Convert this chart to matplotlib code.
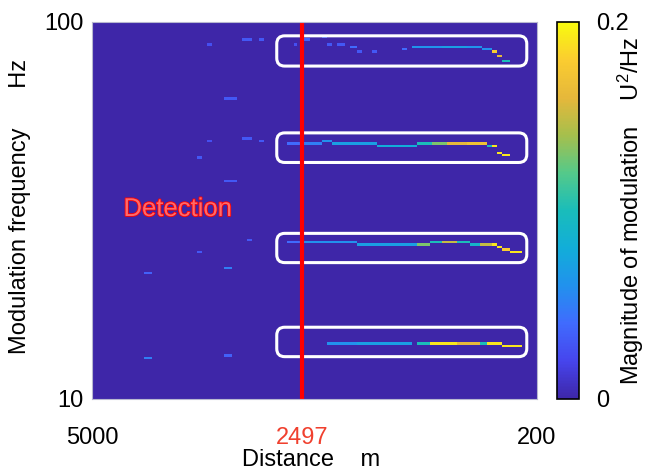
import numpy as np
import matplotlib
matplotlib.use('Agg')
import matplotlib.pyplot as plt
from matplotlib.colors import LinearSegmentedColormap
from matplotlib.patches import FancyBboxPatch
import matplotlib.patheffects as pe

plt.rcParams['font.family'] = ['Liberation Sans', 'DejaVu Sans']
plt.rcParams['mathtext.default'] = 'regular'

# distance bins (index along the trace) and tick labels
n_bins = 178
dist_ticks = [0, 84, 178]
dist_labels = ['5000', '2497', '200']
detect_bin = 84

# frequency axis
f_min, f_max = 10, 100
n_rows = 160

# segments: (bin start, bin end, frequency Hz, magnitude U^2/Hz)
harm1 = [(80.8, 82.4, 87.8, 0.025), (82.8, 87.2, 89.2, 0.035), (92, 94, 90.5, 0.035),
         (94, 96.4, 87.8, 0.03), (98.4, 100.8, 87.8, 0.03), (103.2, 105.6, 86.3, 0.04),
         (105.6, 107.6, 83.8, 0.03), (112.4, 114.4, 83.8, 0.03), (123.6, 126, 85.0, 0.04),
         (128.4, 140, 86.5, 0.062), (140, 150, 86.5, 0.07), (150, 155.6, 86.5, 0.062),
         (155.6, 160, 85.0, 0.06), (160, 162, 83.8, 0.18), (162, 164.4, 81.3, 0.16),
         (164.4, 166.8, 78.5, 0.10)]
harm2 = [(78, 82.8, 47.4, 0.04), (82.8, 92, 47.4, 0.05), (92, 96.4, 48.1, 0.06),
         (96.4, 114.4, 47.4, 0.07), (114.4, 130.4, 46.7, 0.08), (130.4, 136, 47.4, 0.10),
         (136, 142, 47.4, 0.13), (142, 150, 47.4, 0.16), (150, 158, 47.4, 0.17),
         (158, 160, 46.7, 0.10), (160, 162, 46.7, 0.19), (162, 164.4, 45.2, 0.19),
         (164.4, 166.8, 44.5, 0.19)]
harm3 = [(78, 82.8, 26.0, 0.04), (82.8, 105.6, 26.0, 0.06), (105.6, 130.4, 25.6, 0.07),
         (130.4, 135.2, 25.6, 0.13), (135.2, 140, 26.0, 0.10), (140, 146.4, 26.0, 0.15),
         (146.4, 150.8, 26.0, 0.10), (150.8, 155, 25.6, 0.09), (155, 160, 25.6, 0.15),
         (160, 162, 25.6, 0.19), (162, 164.4, 25.3, 0.19), (164.4, 166.8, 24.8, 0.18),
         (166.8, 171.6, 24.45, 0.19)]
harm4 = [(94, 105.6, 14.05, 0.06), (105.6, 128.4, 14.05, 0.07), (130.4, 135.2, 14.05, 0.10),
         (135.2, 146.4, 14.05, 0.19), (146.4, 155.2, 14.05, 0.16), (155.2, 158, 14.05, 0.10),
         (158, 164.4, 14.05, 0.19), (164.4, 171.6, 13.8, 0.19)]
noise = [(46, 48.4, 87.8, 0.025), (60, 64.4, 89.2, 0.03), (66.8, 69.2, 89.2, 0.03),
         (53.2, 57.6, 62.4, 0.03), (46, 48.4, 48.1, 0.025), (60, 64.4, 48.9, 0.03),
         (66.8, 69.2, 48.1, 0.03), (41.6, 44, 43.9, 0.03), (53.2, 57.6, 37.6, 0.03),
         (62.4, 64.4, 26.4, 0.03), (41.6, 44, 24.5, 0.03), (21.2, 24, 21.7, 0.035),
         (53.2, 55.6, 22.3, 0.05), (21.2, 24, 12.8, 0.05), (53.2, 55.6, 13.0, 0.035)]

# highlight boxes: (bin start, bin end, f low, f high)
boxes = [(73.9, 173.9, 76.4, 91.9), (73.9, 173.9, 42.4, 50.8),
         (73.9, 173.9, 23.0, 27.5), (73.9, 173.9, 12.95, 15.5)]

parula_pts = [(0.2422, 0.1504, 0.6603), (0.2750, 0.2700, 0.9300), (0.2500, 0.4200, 0.9950),
              (0.1300, 0.5700, 0.9300), (0.0700, 0.6800, 0.8500), (0.1000, 0.7400, 0.7300),
              (0.3300, 0.7900, 0.5400), (0.6500, 0.7500, 0.3000), (0.9000, 0.7200, 0.2300),
              (0.9800, 0.8000, 0.1900), (0.9763, 0.9831, 0.0538)]
parula = LinearSegmentedColormap.from_list('parula', parula_pts)

# build the grid
x_edges = np.arange(n_bins + 1)
y_edges = np.logspace(np.log10(f_min), np.log10(f_max), n_rows + 1)
grid = np.zeros((n_rows, n_bins))
for b0, b1, f, m in harm1 + harm2 + harm3 + harm4 + noise:
    r = int((np.log10(f) - 1) * n_rows)
    grid[r, int(round(b0)):int(round(b1))] = m

fig = plt.figure(figsize=(6.45, 4.72), dpi=100)
ax = fig.add_axes([0.1426, 0.1547, 0.69, 0.7987])
mesh = ax.pcolormesh(x_edges, y_edges, grid, cmap=parula, vmin=0, vmax=0.2)
ax.set_yscale('log')
ax.set_xlim(0, n_bins)
ax.set_ylim(f_min, f_max)
ax.set_yticks([10, 100])
ax.set_yticklabels(['10', '100'])
ax.minorticks_off()
ax.set_xticks(dist_ticks)
ax.set_xticklabels(dist_labels)
ax.get_xticklabels()[1].set_color('#f0402e')
ax.tick_params(axis='both', length=0, labelsize=17)
ax.tick_params(axis='x', pad=20)
ax.tick_params(axis='y', pad=6)
for s in ax.spines.values():
    s.set_color('#b8b8d0')
    s.set_linewidth(0.8)
ax.set_xlabel('Distance    m', fontsize=17)
ax.xaxis.set_label_coords(0.492, -0.134)
ax.set_ylabel('Modulation frequency      Hz', fontsize=17)
ax.yaxis.set_label_coords(-0.138, 0.51)

ax.axvline(detect_bin, color='red', lw=3)

ax.text(0.193, 0.504, 'Detection', transform=ax.transAxes, fontsize=18.5,
        color='#ff6a6a', ha='center', va='center',
        path_effects=[pe.withStroke(linewidth=1.2, foreground='red')])

to_axes = ax.transAxes.inverted()
for b0, b1, flo, fhi in boxes:
    (x0, y0), (x1, y1) = to_axes.transform(ax.transData.transform([(b0, flo), (b1, fhi)]))
    ax.add_patch(FancyBboxPatch((x0, y0), x1 - x0, y1 - y0, transform=ax.transAxes,
                                boxstyle='round,pad=0,rounding_size=0.018',
                                mutation_aspect=445 / 377, fc='none', ec='white', lw=2.2))

cax = fig.add_axes([0.863, 0.1547, 0.035, 0.7987])
cb = fig.colorbar(mesh, cax=cax, ticks=[0, 0.2])
cb.ax.set_yticklabels(['0', '0.2'])
cb.ax.tick_params(length=0, labelsize=17, pad=12)
cb.outline.set_linewidth(1.2)
cb.set_label('Magnitude of modulation    U$^2$/Hz', fontsize=17, labelpad=-9)

fig.savefig('out.png', dpi=100)
